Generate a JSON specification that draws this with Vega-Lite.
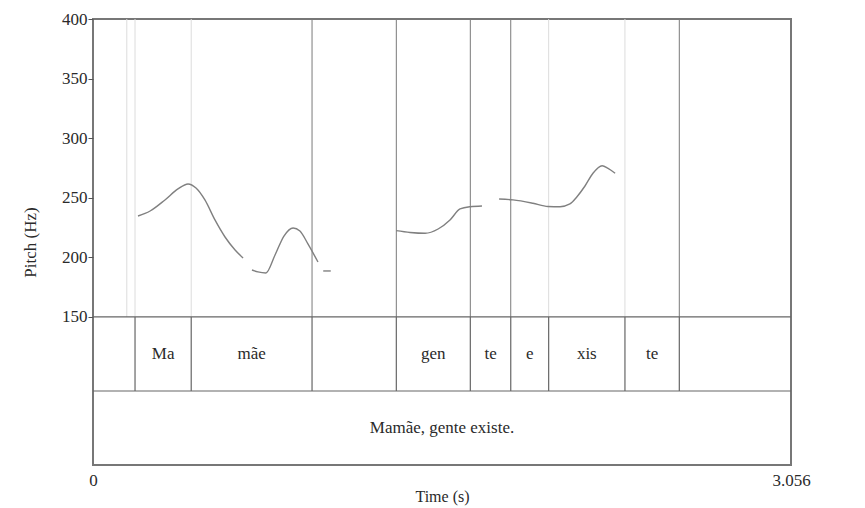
{
  "$schema": "https://vega.github.io/schema/vega-lite/v6.json",
  "autosize": "none",
  "width": 698,
  "height": 446,
  "padding": {"left": 93, "top": 19, "right": 74, "bottom": 43},
  "background": "white",
  "config": {
    "view": {"stroke": "#777", "strokeWidth": 2},
    "axis": {"labelFont": "Liberation Serif", "titleFont": "Liberation Serif", "labelFontSize": 17, "titleFontSize": 16, "titleFontWeight": "normal", "labelColor": "#2a2a2a", "titleColor": "#2a2a2a", "grid": false}
  },
  "datasets": {
    "pitch": [
      {"t": 0.197, "hz": 234.7, "seg": 1}, {"t": 0.250, "hz": 238.9, "seg": 1}, {"t": 0.315, "hz": 248.2, "seg": 1}, {"t": 0.372, "hz": 257.4, "seg": 1}, {"t": 0.416, "hz": 261.6, "seg": 1}, {"t": 0.451, "hz": 258.2, "seg": 1}, {"t": 0.490, "hz": 248.2, "seg": 1}, {"t": 0.534, "hz": 231.4, "seg": 1}, {"t": 0.578, "hz": 217.1, "seg": 1}, {"t": 0.622, "hz": 206.2, "seg": 1}, {"t": 0.657, "hz": 199.5, "seg": 1},
      {"t": 0.696, "hz": 189.4, "seg": 2}, {"t": 0.722, "hz": 187.8, "seg": 2}, {"t": 0.757, "hz": 186.9, "seg": 2}, {"t": 0.797, "hz": 202.0, "seg": 2}, {"t": 0.836, "hz": 217.9, "seg": 2}, {"t": 0.876, "hz": 224.7, "seg": 2}, {"t": 0.906, "hz": 222.1, "seg": 2}, {"t": 0.941, "hz": 211.3, "seg": 2}, {"t": 0.985, "hz": 196.1, "seg": 2},
      {"t": 1.008, "hz": 188.6, "seg": 3}, {"t": 1.041, "hz": 188.6, "seg": 3},
      {"t": 1.327, "hz": 222.4, "seg": 4}, {"t": 1.388, "hz": 220.9, "seg": 4}, {"t": 1.454, "hz": 220.2, "seg": 4}, {"t": 1.511, "hz": 223.8, "seg": 4}, {"t": 1.563, "hz": 231.4, "seg": 4}, {"t": 1.607, "hz": 240.6, "seg": 4}, {"t": 1.651, "hz": 242.5, "seg": 4}, {"t": 1.703, "hz": 243.1, "seg": 4},
      {"t": 1.778, "hz": 249.0, "seg": 5}, {"t": 1.839, "hz": 248.2, "seg": 5}, {"t": 1.926, "hz": 245.4, "seg": 5}, {"t": 1.992, "hz": 242.7, "seg": 5}, {"t": 2.045, "hz": 242.5, "seg": 5}, {"t": 2.088, "hz": 244.8, "seg": 5}, {"t": 2.119, "hz": 250.9, "seg": 5}, {"t": 2.154, "hz": 259.9, "seg": 5}, {"t": 2.189, "hz": 270.6, "seg": 5}, {"t": 2.229, "hz": 276.9, "seg": 5}, {"t": 2.255, "hz": 274.7, "seg": 5}, {"t": 2.286, "hz": 270.6, "seg": 5}
    ],
    "bounds": [
      {"t": 0.148, "kind": "weak", "tier1": false},
      {"t": 0.184, "kind": "weak", "tier1": true},
      {"t": 0.430, "kind": "weak", "tier1": true},
      {"t": 0.959, "kind": "strong", "tier1": true},
      {"t": 1.328, "kind": "strong", "tier1": true},
      {"t": 1.652, "kind": "strong", "tier1": true},
      {"t": 1.829, "kind": "strong", "tier1": true},
      {"t": 1.995, "kind": "weak", "tier1": true},
      {"t": 2.329, "kind": "weak", "tier1": true},
      {"t": 2.567, "kind": "strong", "tier1": true}
    ],
    "hlines": [{"level": 150}, {"level": 87.9}],
    "labels1": [
      {"t": 0.307, "label": "Ma"}, {"t": 0.695, "label": "mãe"}, {"t": 1.490, "label": "gen"}, {"t": 1.741, "label": "te"}, {"t": 1.912, "label": "e"}, {"t": 2.162, "label": "xis"}, {"t": 2.448, "label": "te"}
    ],
    "labels2": [{"t": 1.528, "label": "Mamãe, gente existe."}]
  },
  "encoding": {
    "x": {"field": "t", "type": "quantitative", "scale": {"domain": [0, 3.056], "nice": false, "zero": false},
      "axis": {"values": [0, 3.056], "format": ".4~f", "ticks": false, "domain": false, "labelPadding": 7, "labelFlush": false, "title": "Time (s)", "titlePadding": 0}}
  },
  "layer": [
    {
      "data": {"name": "bounds"},
      "mark": {"type": "rule", "strokeWidth": 1},
      "encoding": {
        "y": {"datum": 150, "type": "quantitative", "scale": {"domain": [25.8, 400], "nice": false, "zero": false},
          "axis": {"values": [150, 200, 250, 300, 350, 400], "tickSize": 5, "tickColor": "#555", "labelPadding": 1, "domain": false, "title": "Pitch (Hz)", "titleFontSize": 17, "titlePadding": 22}},
        "y2": {"datum": 400},
        "color": {"field": "kind", "type": "nominal", "scale": {"domain": ["strong", "weak"], "range": ["#7a7a7a", "#dcdcdc"]}, "legend": null}
      }
    },
    {
      "data": {"name": "bounds"},
      "transform": [{"filter": "datum.tier1"}],
      "mark": {"type": "rule", "color": "#666", "strokeWidth": 1.2},
      "encoding": {"y": {"datum": 87.9, "type": "quantitative"}, "y2": {"datum": 150}}
    },
    {
      "data": {"name": "hlines"},
      "mark": {"type": "rule", "color": "#666", "strokeWidth": 1.2},
      "encoding": {"x": null, "y": {"field": "level", "type": "quantitative"}}
    },
    {
      "data": {"name": "pitch"},
      "mark": {"type": "line", "color": "#808080", "strokeWidth": 1.4, "interpolate": "monotone"},
      "encoding": {"y": {"field": "hz", "type": "quantitative"}, "detail": {"field": "seg", "type": "nominal"}}
    },
    {
      "data": {"name": "labels1"},
      "mark": {"type": "text", "font": "Liberation Serif", "fontSize": 17, "color": "#2a2a2a", "baseline": "middle"},
      "encoding": {"y": {"datum": 118.96, "type": "quantitative"}, "text": {"field": "label"}}
    },
    {
      "data": {"name": "labels2"},
      "mark": {"type": "text", "font": "Liberation Serif", "fontSize": 17, "color": "#2a2a2a", "baseline": "middle"},
      "encoding": {"y": {"datum": 56.9, "type": "quantitative"}, "text": {"field": "label"}}
    }
  ]
}
